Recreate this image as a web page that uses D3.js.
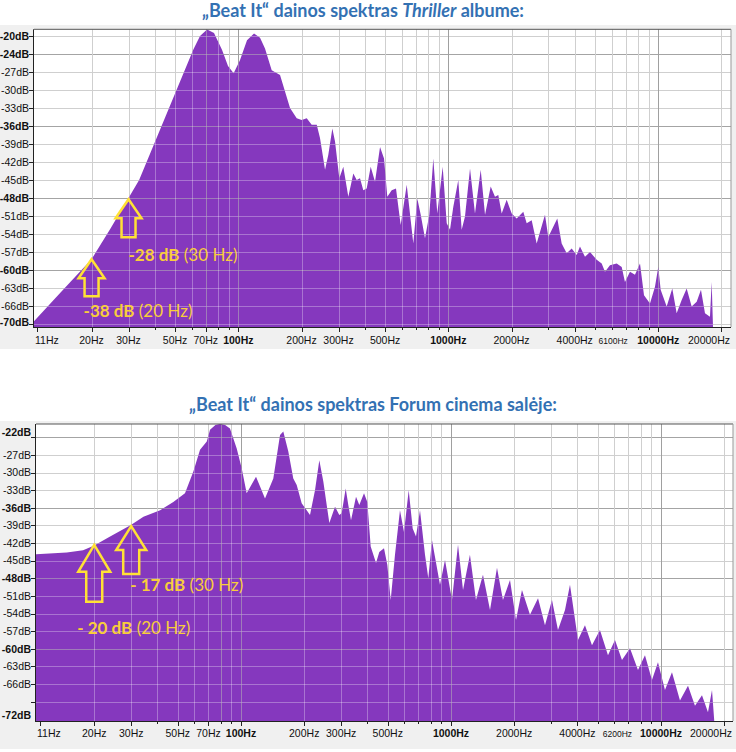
<!DOCTYPE html>
<html lang="lt">
<head>
<meta charset="UTF-8">
<title>Beat It spektras</title>
<style>
  body { margin: 0; background: #fff; }
  svg { display: block; }
  .ax { font-family: "Liberation Sans", Arial, sans-serif; font-size: 10.5px; fill: #111; }
  .title { font-family: Lato, "Open Sans", sans-serif; font-weight: bold; font-size: 18px; fill: #3371b3; }
  .note { font-family: Lato, "Open Sans", sans-serif; font-size: 17px; fill: #f8cd3c; }
</style>
</head>
<body>
<svg id="chart" width="736" height="752"></svg>
<script src="https://d3js.org/d3.v7.min.js"></script>
<script>
// spectrum: [Hz, dB]
const albumSpectrum = [
  [10.6,-68.6],[14.2,-63.8],[20,-58.2],[24.5,-53.2],[30,-48.0],[33.7,-45.0],[44.8,-34.6],[61,-23.3],
  [65.7,-21.0],[71,-19.9],[76.6,-20.5],[83.6,-23.3],[89.3,-26.0],[95,-27.2],[101.9,-25.0],[110,-21.7],
  [118.8,-20.6],[126.9,-21.3],[134,-23.1],[144.2,-26.7],[158,-27.5],[176.3,-33.0],[189.7,-34.7],
  [200.4,-35.0],[211.7,-34.7],[223.6,-35.8],[236.3,-35.8],[244.9,-38.0],[258.8,-43.3],[268.3,-40.8],
  [280.4,-36.4],[288.8,-38.6],[302.7,-44.7],[316.2,-42.8],[334.1,-47.8],[352.9,-43.9],[366.3,-45.0],
  [379.8,-44.7],[393.7,-46.7],[408.7,-46.4],[427,-42.8],[447.7,-45.3],[473,-39.5],[494.2,-41.4],
  [512.4,-47.8],[537.7,-46.7],[563.6,-46.4],[593.3,-52.5],[633.9,-45.8],[681.3,-55.6],[711.9,-48.1],
  [739,-50.8],[774.5,-54.7],[812,-50.8],[848.4,-41.4],[886.4,-50.6],[940.4,-42.8],[983,-52.2],
  [1019,-53.3],[1056,-49.5],[1116,-45.0],[1158,-53.3],[1201,-51.1],[1269,-43.1],[1340,-50.6],
  [1427,-43.3],[1496,-50.8],[1592,-46.1],[1669,-47.8],[1730,-47.5],[1796,-50.6],[1897,-48.3],
  [2004,-50.6],[2117,-51.4],[2276,-50.3],[2362,-52.2],[2495,-51.7],[2636,-55.6],[2887,-50.8],
  [2994,-54.5],[3162,-52.8],[3304,-51.4],[3467,-55.6],[3663,-57.2],[3869,-56.4],[4087,-57.5],
  [4237,-56.1],[4477,-57.8],[4729,-57.0],[5090,-58.3],[5377,-58.9],[5574,-60.3],[5888,-59.2],
  [6339,-58.9],[6697,-59.5],[6940,-62.0],[7332,-60.3],[7745,-60.8],[8184,-58.9],[8551,-64.2],
  [9131,-65.6],[9646,-62.8],[10000,-59.5],[10265,-63.3],[10965,-66.1],[11660,-63.1],[12234,-67.2],
  [12925,-65.0],[13654,-63.1],[14421,-66.1],[15238,-65.3],[15970,-63.3],[16690,-67.2],[17630,-67.8],
  [17960,-62.0],[18280,-71.0]
];

const cinemaSpectrum = [
  [10.56,-43.9],[14.8,-43.6],[17.7,-43.2],[20,-42.4],[23.8,-40.9],[29.9,-38.9],[34.3,-37.5],[41.2,-36.4],
  [47.6,-35.0],[54.1,-33.5],[59.3,-29.8],[63.8,-26.1],[68.7,-24.7],[71.2,-22.7],[75.5,-21.9],[79.4,-21.7],
  [84,-21.9],[88.6,-22.5],[95.4,-25.9],[100.8,-29.3],[106.4,-33.5],[117.9,-30.7],[130.1,-34.4],
  [142.5,-31.0],[153.4,-23.6],[159,-23.0],[168,-26.4],[177.4,-31.0],[184.2,-32.1],[194.5,-35.2],
  [213.1,-37.2],[225.1,-33.0],[236,-27.9],[246.6,-31.5],[255.9,-35.5],[263.4,-38.6],[280.4,-35.8],
  [293.8,-37.2],[301.6,-36.9],[315.2,-32.7],[324.3,-35.5],[334.1,-38.1],[352.9,-34.1],[365.9,-35.5],
  [385.3,-33.5],[399.5,-35.0],[414.6,-42.6],[439.5,-45.4],[455.6,-43.5],[479.7,-42.9],[497.4,-45.7],
  [516.3,-51.7],[541.1,-44.0],[571.5,-36.4],[597.3,-40.1],[629,-33.0],[657,-39.5],[681.3,-40.9],
  [711.9,-36.4],[752,-44.0],[779.8,-48.0],[812,-41.5],[886.4,-49.1],[936.4,-44.9],[1011,-51.7],
  [1080,-42.3],[1141,-50.0],[1231,-44.0],[1315,-51.7],[1420,-47.4],[1534,-53.4],[1656,-46.2],
  [1768,-51.7],[1910,-48.3],[2040,-55.1],[2178,-50.0],[2378,-54.2],[2597,-51.4],[2803,-56.0],
  [3027,-51.7],[3232,-56.8],[3491,-53.4],[3687,-49.1],[4025,-58.5],[4346,-56.0],[4693,-59.4],
  [5122,-56.8],[5593,-61.1],[6039,-58.5],[6521,-61.9],[7119,-59.9],[7772,-63.6],[8391,-61.1],
  [9060,-65.3],[9677,-62.3],[10447,-67.0],[11283,-64.0],[12318,-68.8],[13450,-66.3],[14521,-69.7],
  [15678,-67.9],[16745,-70.8],[17500,-67.0],[18080,-74.0]
];

const gridHz = [20,30,40,50,60,70,80,90,100,200,300,400,500,600,700,800,900,
                1000,2000,3000,4000,5000,6000,7000,8000,9000,10000,20000];
const majorHz = [100, 1000, 10000];
const albumHzLabels = [11,20,30,50,70,100,200,300,500,1000,2000,4000,6100,10000,20000];
const cinemaHzLabels = [11,20,30,50,70,100,200,300,500,1000,2000,4000,6200,10000,20000];

const albumDbGrid = d3.range(-21, -70, -3);   // -21 ... -69
const cinemaDbGrid = d3.range(-24, -70, -3);  // -24 ... -69
const albumDbLabels = d3.range(-24, -67, -3);
const cinemaDbLabels = d3.range(-27, -67, -3);
const albumEdgeLabels = ["-20dB", "-70dB"];
const cinemaEdgeLabels = ["-22dB", "-72dB"];

const albumNotes = [
  { hz: 30, db: -48.2, level: "-28 dB", freq: " (30 Hz)", head: 13, headH: 19, shaft: 7, len: 38, dx: 0, dy: 62 },
  { hz: 20, db: -58.2, level: "-38 dB", freq: " (20 Hz)", head: 13, headH: 19, shaft: 7, len: 37, dx: -8, dy: 58 }
];
const cinemaNotes = [
  { hz: 30, db: -39.1, level: "- 17 dB", freq: " (30 Hz)", head: 15, headH: 24, shaft: 8, len: 48, dx: -1, dy: 65 },
  { hz: 20, db: -42.3, level: "- 20 dB", freq: " (20 Hz)", head: 16, headH: 27, shaft: 8, len: 57, dx: -17, dy: 89 }
];

const charts = [
  {
    title: [["„Beat It“ dainos spektras ", false], ["Thriller", true], [" albume:", false]],
    titleX: 363, titleY: 17,
    panel: [25, 349],
    plot: { left: 34, right: 731, top: 29.3, bottom: 327 },
    hzDomain: [10.64, 22200], dbDomain: [-69.5, -19.88],
    spectrum: albumSpectrum, hzLabels: albumHzLabels,
    dbGrid: albumDbGrid, dbLabels: albumDbLabels, edgeLabels: albumEdgeLabels,
    edgeOffset: [7, -4.5], peakHz: 70, notes: albumNotes, labelY: 344
  },
  {
    title: [["„Beat It“ dainos spektras Forum cinema salėje:", false]],
    titleX: 373, titleY: 411,
    panel: [421, 749],
    plot: { left: 36, right: 733, top: 424, bottom: 721 },
    hzDomain: [10.56, 22030], dbDomain: [-72.3, -21.72],
    spectrum: cinemaSpectrum, hzLabels: cinemaHzLabels,
    dbGrid: cinemaDbGrid, dbLabels: cinemaDbLabels, edgeLabels: cinemaEdgeLabels,
    edgeOffset: [8, -6], peakHz: 80, notes: cinemaNotes, labelY: 737
  }
];

const fillColor = "#8538be";
const svg = d3.select("#chart");

charts.forEach((c, ci) => {
  const p = c.plot;
  const g = svg.append("g");
  const x = d3.scaleLog().domain(c.hzDomain).range([p.left, p.right]);
  const y = d3.scaleLinear().domain(c.dbDomain).range([p.bottom, p.top]);

  // title
  const t = g.append("text").attr("class", "title")
    .attr("x", c.titleX).attr("y", c.titleY).attr("text-anchor", "middle");
  c.title.forEach(([s, it]) => t.append("tspan").attr("font-style", it ? "italic" : "normal").text(s));

  // grey frame + white plot
  g.append("rect").attr("x", 0).attr("y", c.panel[0]).attr("width", 736)
    .attr("height", c.panel[1] - c.panel[0]).attr("fill", "#f0f0f0");
  g.append("rect").attr("x", p.left).attr("y", p.top).attr("width", p.right - p.left)
    .attr("height", p.bottom - p.top).attr("fill", "#fff");

  const isMajorHz = f => majorHz.includes(f) || f === c.peakHz;
  const isMajorDb = d => d % 12 === 0;

  // grid under the fill
  const grid = g.append("g");
  grid.selectAll("line.h").data(c.dbGrid).join("line")
    .attr("x1", p.left).attr("x2", p.right)
    .attr("y1", d => Math.round(y(d)) + 0.5).attr("y2", d => Math.round(y(d)) + 0.5)
    .attr("stroke", d => isMajorDb(d) ? "#a4a4a4" : "#cfcfcf");
  grid.selectAll("line.v").data(gridHz).join("line")
    .attr("y1", p.top).attr("y2", p.bottom)
    .attr("x1", d => Math.round(x(d)) + 0.5).attr("x2", d => Math.round(x(d)) + 0.5)
    .attr("stroke", d => isMajorHz(d) ? "#a0a0a0" : "#cfcfcf");

  // spectrum
  const clipId = "plotclip" + ci;
  g.append("clipPath").attr("id", clipId).append("rect")
    .attr("x", p.left).attr("y", p.top).attr("width", p.right - p.left).attr("height", p.bottom - p.top);
  const area = d3.area()
    .x(d => x(d[0]))
    .y0(p.bottom)
    .y1(d => y(d[1]));
  const areaD = area(c.spectrum);
  g.append("path").attr("d", areaD).attr("fill", fillColor).attr("clip-path", `url(#${clipId})`);

  // grid drawn again over the fill, lighter
  const fillClip = "fillclip" + ci;
  g.append("clipPath").attr("id", fillClip).append("path").attr("d", areaD);
  const over = g.append("g").attr("clip-path", `url(#${fillClip})`);
  over.selectAll("line.h").data(c.dbGrid).join("line")
    .attr("x1", p.left).attr("x2", p.right)
    .attr("y1", d => Math.round(y(d)) + 0.5).attr("y2", d => Math.round(y(d)) + 0.5)
    .attr("stroke", d => isMajorDb(d) ? "#b4b4b4" : "#fff")
    .attr("stroke-opacity", d => isMajorDb(d) ? 0.55 : 0.3);
  over.selectAll("line.v").data(gridHz).join("line")
    .attr("y1", p.top).attr("y2", p.bottom)
    .attr("x1", d => Math.round(x(d)) + 0.5).attr("x2", d => Math.round(x(d)) + 0.5)
    .attr("stroke", d => isMajorHz(d) ? "#b4b4b4" : "#fff")
    .attr("stroke-opacity", d => isMajorHz(d) ? 0.55 : 0.3);

  // frame
  g.append("line").attr("x1", p.left).attr("x2", p.right).attr("y1", p.top).attr("y2", p.top).attr("stroke", "#555");
  g.append("line").attr("x1", p.right).attr("x2", p.right).attr("y1", p.top).attr("y2", p.bottom).attr("stroke", "#999");
  g.append("line").attr("x1", p.left - 0.5).attr("x2", p.left - 0.5).attr("y1", p.top).attr("y2", p.bottom + 1).attr("stroke", "#222");
  g.append("line").attr("x1", p.left).attr("x2", p.right).attr("y1", p.bottom + 0.5).attr("y2", p.bottom + 0.5).attr("stroke", "#222");

  // y axis labels
  const yl = g.append("g").attr("class", "ax");
  c.dbLabels.forEach(d => {
    const yy = y(d);
    yl.append("line").attr("x1", p.left - 5).attr("x2", p.left).attr("y1", Math.round(yy) + 0.5)
      .attr("y2", Math.round(yy) + 0.5).attr("stroke", "#222");
    yl.append("text").attr("x", p.left - 5).attr("y", yy + 3.8).attr("text-anchor", "end")
      .attr("font-weight", isMajorDb(d) ? "bold" : "normal").text(d + "dB");
  });
  c.dbGrid.filter(d => !c.dbLabels.includes(d)).forEach(d => {
    yl.append("line").attr("x1", p.left - 5).attr("x2", p.left).attr("y1", Math.round(y(d)) + 0.5)
      .attr("y2", Math.round(y(d)) + 0.5).attr("stroke", "#222");
  });
  [[c.edgeLabels[0], p.top + c.edgeOffset[0]], [c.edgeLabels[1], p.bottom + c.edgeOffset[1]]].forEach(([s, yy]) => {
    yl.append("text").attr("x", p.left - 5).attr("y", yy + 3.8).attr("text-anchor", "end")
      .attr("font-weight", "bold").text(s);
  });

  // x axis ticks and labels
  const xl = g.append("g").attr("class", "ax");
  xl.selectAll("line").data([c.hzLabels[0]].concat(gridHz)).join("line")
    .attr("x1", d => Math.round(x(d)) + 0.5).attr("x2", d => Math.round(x(d)) + 0.5)
    .attr("y1", p.bottom + 1).attr("y2", d => p.bottom + (c.hzLabels.includes(d) ? 5 : 3))
    .attr("stroke", "#222");
  c.hzLabels.forEach((f, i) => {
    const last = i === c.hzLabels.length - 1;
    const txt = xl.append("text")
      .attr("x", i === 0 ? p.left + 1 : last ? p.right - 1 : x(f))
      .attr("y", c.labelY)
      .attr("text-anchor", i === 0 ? "start" : last ? "end" : "middle")
      .attr("font-weight", majorHz.includes(f) ? "bold" : "normal")
      .text(f + "Hz");
    if (f === 6100 || f === 6200) txt.attr("font-size", "8.5px");
  });

  // annotations
  c.notes.forEach(n => {
    const tx = x(n.hz), ty = y(n.db);
    const pts = [[tx, ty], [tx + n.head, ty + n.headH], [tx + n.shaft, ty + n.headH], [tx + n.shaft, ty + n.len],
                 [tx - n.shaft, ty + n.len], [tx - n.shaft, ty + n.headH], [tx - n.head, ty + n.headH]];
    g.append("path").attr("d", d3.line()(pts) + "Z")
      .attr("fill", "none").attr("stroke", "#ffe135").attr("stroke-width", 2.5)
      .attr("stroke-linejoin", "miter");
    const nt = g.append("text").attr("class", "note").attr("x", tx + n.dx).attr("y", ty + n.dy);
    nt.append("tspan").attr("font-weight", "bold").text(n.level);
    nt.append("tspan").text(n.freq);
  });
});
</script>
</body>
</html>
